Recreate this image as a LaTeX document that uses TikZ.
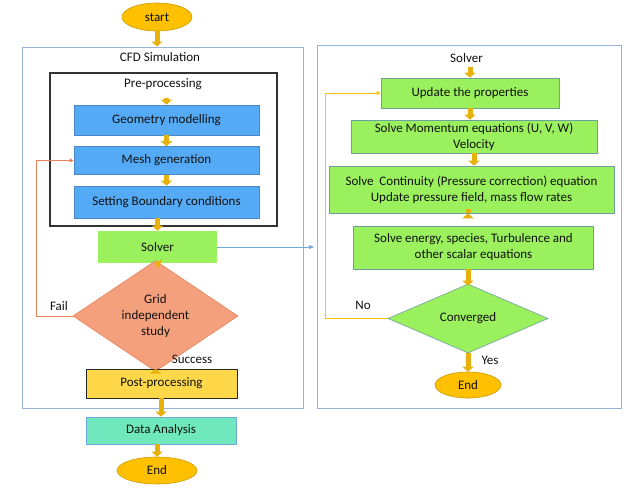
\documentclass[tikz,border=0pt]{standalone}
\usepackage{fontspec}
\setmainfont{Carlito}
\usetikzlibrary{shapes.geometric,arrows.meta}
\definecolor{frameblue}{HTML}{95B3D7}
\definecolor{boxblue}{HTML}{55AAF5}
\definecolor{boxblueline}{HTML}{4A86C8}
\definecolor{lgreen}{HTML}{9BF05E}
\definecolor{lgreenline}{HTML}{6FA0A0}
\definecolor{salmon}{HTML}{F5A07C}
\definecolor{salmonline}{HTML}{E8825A}
\definecolor{postyel}{HTML}{FFD84A}
\definecolor{aqua}{HTML}{6EE8BC}
\definecolor{gold}{HTML}{FFC000}
\definecolor{goldarrow}{HTML}{E8B00A}
\definecolor{txt}{HTML}{111111}
\definecolor{linkblue}{HTML}{6FA8DC}
\tikzset{
  every node/.style={font=\fontsize{13}{16}\selectfont, text=txt},
  frame/.style={draw=frameblue, line width=0.9pt, inner sep=0pt},
  blackframe/.style={draw=black!80, line width=1.1pt, inner sep=0pt},
  bluebox/.style={draw=boxblueline, fill=boxblue, line width=0.6pt, inner sep=0pt, align=center},
  greenbox/.style={draw=lgreenline, fill=lgreen, line width=0.6pt, inner sep=0pt, align=center},
  oval/.style={ellipse, draw=gold!80!black, fill=gold, line width=0.6pt, inner sep=0pt},
  dia/.style={diamond, line width=0.6pt, inner sep=0pt, align=center},
  flow/.style={draw=goldarrow, line width=5pt, -{Triangle[length=5pt,width=11pt]}},
  loopline/.style={line width=0.9pt, -{Triangle[length=4pt,width=4pt]}},
  lbl/.style={inner sep=0pt}
}
\begin{document}
\begin{tikzpicture}[x=1pt,y=-1pt]
\useasboundingbox[fill=white] (0,0) rectangle (640,488);
% ---------- left part ----------
\node[oval, minimum width=70pt, minimum height=28pt] (start) at (157,17) {start};
\node[frame, minimum width=281pt, minimum height=361pt] (cfd) at (163,227.5) {};
\node[lbl] (cfdlbl) at (160,57.5) {CFD Simulation};
\node[blackframe, minimum width=227pt, minimum height=153pt] (pre) at (163.5,149.5) {};
\node[lbl] (prelbl) at (163,84) {Pre-processing};
\node[bluebox, minimum width=185pt, minimum height=30pt] (geom) at (166.5,120) {Geometry modelling};
\node[bluebox, minimum width=185pt, minimum height=28pt] (mesh) at (166.5,160.5) {Mesh generation};
\node[bluebox, minimum width=185pt, minimum height=32pt] (bc) at (166.5,202) {Setting Boundary conditions};
\node[greenbox, draw=none, minimum width=119pt, minimum height=32pt] (solver) at (157.5,247) {Solver};
\node[dia, draw=salmonline, fill=salmon, minimum width=165pt, minimum height=85pt] (grid) at (155.5,316) {Grid\\independent\\study};
\node[lbl] (fail) at (59,306) {Fail};
\node[lbl] (succ) at (192,359) {Success};
\node[draw=black!85, fill=postyel, line width=0.8pt, inner sep=0pt, minimum width=151pt, minimum height=29pt] (post) at (161.5,383.5) {Post-processing};
\node[draw=linkblue, fill=aqua, line width=0.6pt, inner sep=0pt, minimum width=150pt, minimum height=27pt] (data) at (161,430.5) {Data Analysis};
\node[oval, minimum width=80pt, minimum height=27pt] (end1) at (157,470.5) {End};
% flow arrows left
\draw[flow] (start.south) -- (start.south |- cfd.north);
\draw[flow] ([yshift=-8pt]prelbl.south -| geom.north) -- (geom.north);
\draw[flow] (geom.south) -- (mesh.north);
\draw[flow] (mesh.south) -- (bc.north);
\draw[flow] (bc.south -| solver.north) -- (solver.north);
\draw[flow] (solver.south) -- ([yshift=-2pt]grid.north);
\draw[flow] (grid.south) -- (grid.south |- post.north);
\draw[flow] (post.south -| data.north) -- (data.north);
\draw[flow] (data.south -| end1.north) -- (end1.north);
% fail loop
\coordinate (fa) at (36,316);
\draw[loopline, draw=salmonline] (grid.west) -- (fa) |- (mesh.west);
% ---------- right part ----------
\node[frame, minimum width=304pt, minimum height=363pt] (rbox) at (469.5,226.5) {};
\node[lbl] (slbl) at (466.5,58) {Solver};
\node[greenbox, minimum width=178pt, minimum height=30pt] (upd) at (470,93) {Update the properties};
\node[greenbox, minimum width=246pt, minimum height=33pt] (mom) at (474,136.5) {Solve Momentum equations (U, V, W)\\Velocity};
\node[greenbox, minimum width=285pt, minimum height=47pt] (cont) at (471.5,189.5) {Solve\ \ Continuity (Pressure correction) equation\\Update pressure field, mass flow rates};
\node[greenbox, minimum width=240pt, minimum height=43pt] (ener) at (473.5,247.5) {Solve energy, species, Turbulence and\\other scalar equations};
\node[dia, draw=lgreenline, fill=lgreen, minimum width=160pt, minimum height=69pt] (conv) at (468,318.5) {Converged};
\node[lbl] (no) at (363,305) {No};
\node[lbl] (yes) at (490,360) {Yes};
\node[oval, minimum width=66pt, minimum height=26pt] (end2) at (468,385) {End};
% flow arrows right
\draw[flow] ([yshift=-4pt]slbl.south -| upd.north) -- (upd.north);
\draw[flow] (upd.south) -- (upd.south |- mom.north);
\draw[flow] (mom.south) -- (mom.south |- cont.north);
\draw[flow] (cont.south -| conv.north) -- (cont.south -| conv.north |- ener.north);
\draw[flow] (ener.south -| conv.north) -- ([yshift=-2pt]conv.north);
\draw[flow] (conv.south) -- (end2.north);
% no loop
\coordinate (na) at (325,318.5);
\draw[loopline, draw=gold] (conv.west) -- (na) |- (upd.west);
% solver link
\coordinate (rin) at (314,247);
\draw[line width=0.7pt, draw=linkblue, -{Triangle[length=5pt,width=4pt]}] (solver.east) -- (rin);
\end{tikzpicture}
\end{document}
